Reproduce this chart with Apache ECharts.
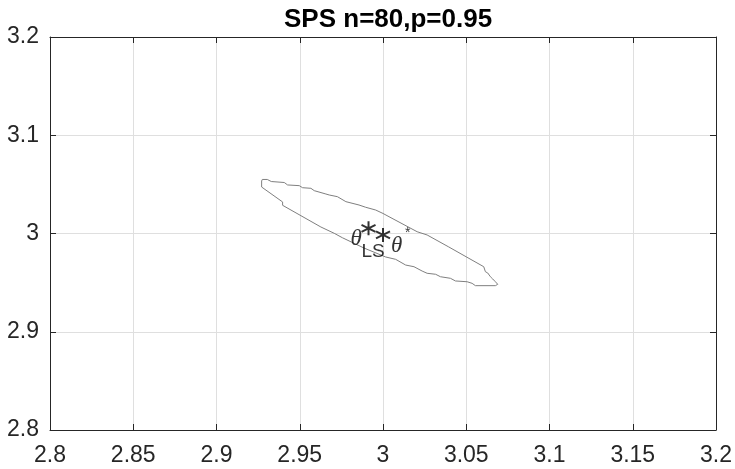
<!DOCTYPE html>
<html>
<head>
<meta charset="utf-8">
<script src="https://cdn.jsdelivr.net/npm/echarts@6/dist/echarts.min.js"></script>
<style>html,body{margin:0;padding:0;background:#fff;}#c{width:735px;height:469px;}</style>
</head>
<body>
<div id="c"></div>
<script>
var titleText = 'SPS n=80,p=0.95';
var xTicks = [2.8, 2.85, 2.9, 2.95, 3, 3.05, 3.1, 3.15, 3.2];
var yTicks = [2.8, 2.9, 3, 3.1, 3.2];
var contourX = [2.9275,2.9287,2.9305,2.9329,2.9341,2.9407,2.9427,2.9497,2.9517,2.9567,2.9587,2.9657,2.9677,2.9726,2.9777,2.9856,2.9896,2.9956,3.0000,3.0036,3.0205,3.0265,3.0395,3.0605,3.0615,3.0629,3.0645,3.0659,3.0675,3.0689,3.0675,3.0555,3.0535,3.0505,3.0435,3.0405,3.0345,3.0316,3.0265,3.0235,3.0186,3.0136,3.0076,3.0016,2.9886,2.9756,2.9707,2.9627,2.9397,2.9397,2.9271,2.9271,2.9275];
var contourY = [3.0550,3.0560,3.0550,3.0529,3.0519,3.0519,3.0494,3.0487,3.0466,3.0460,3.0436,3.0402,3.0392,3.0375,3.0324,3.0290,3.0267,3.0239,3.0204,3.0171,3.0018,2.9985,2.9863,2.9662,2.9611,2.9598,2.9560,2.9537,2.9509,2.9483,2.9469,2.9469,2.9493,2.9509,2.9517,2.9544,2.9560,2.9585,2.9595,2.9618,2.9662,2.9679,2.9737,2.9761,2.9852,2.9957,3.0002,3.0066,3.0287,3.0321,3.0473,3.0534,3.0550];
var thetaLS = [2.9913, 3.0053];
var thetaStar = [3.0000, 2.9985];

var contourData = contourX.map(function (x, i) { return [x, contourY[i]]; });
var axisColor = '#262626';
var sans = '"Liberation Sans", Arial, sans-serif';
var serif = '"Liberation Serif", "Times New Roman", serif';
var fmt = function (v) { return String(parseFloat(v.toFixed(4))); };
var star = 'path://M0,-1L0,1M-0.866,-0.5L0.866,0.5M-0.866,0.5L0.866,-0.5';

function xAxisCfg(pos, showLabel) {
  return {
    type: 'value', position: pos, min: xTicks[0], max: xTicks[xTicks.length - 1], interval: 0.05,
    axisLine: { show: true, onZero: false, lineStyle: { color: axisColor, width: 1 } },
    axisTick: { show: true, inside: true, length: 6, lineStyle: { color: axisColor } },
    axisLabel: { show: showLabel, formatter: fmt, color: axisColor, fontSize: 23, fontFamily: sans, margin: 14 },
    splitLine: { show: showLabel, lineStyle: { color: '#dfdfdf', width: 1 } }
  };
}
function yAxisCfg(pos, showLabel) {
  return {
    type: 'value', position: pos, min: yTicks[0], max: yTicks[yTicks.length - 1], interval: 0.1,
    axisLine: { show: true, onZero: false, lineStyle: { color: axisColor, width: 1 } },
    axisTick: { show: true, inside: true, length: 6, lineStyle: { color: axisColor } },
    axisLabel: { show: showLabel, formatter: fmt, color: axisColor, fontSize: 23, fontFamily: sans, margin: 11 },
    splitLine: { show: showLabel, lineStyle: { color: '#dfdfdf', width: 1 } }
  };
}

var chart = echarts.init(document.getElementById('c'), null, { renderer: 'canvas' });
chart.setOption({
  animation: false,
  backgroundColor: '#fff',
  title: {
    text: titleText, left: 279, top: 2,
    textStyle: { fontSize: 26, fontWeight: 'bold', color: '#000', fontFamily: sans }
  },
  grid: { left: 50, right: 17, top: 37, bottom: 39, containLabel: false },
  xAxis: [xAxisCfg('bottom', true), xAxisCfg('top', false)],
  yAxis: [yAxisCfg('left', true), yAxisCfg('right', false)],
  series: [
    {
      type: 'line', data: contourData, showSymbol: false, symbol: 'none',
      lineStyle: { color: '#7f7f7f', width: 1 }, z: 3
    },
    {
      type: 'scatter', data: [thetaLS, thetaStar], symbol: star, symbolSize: 14,
      itemStyle: { color: 'none', borderColor: '#000', borderWidth: 2 }, z: 5
    },
    {
      type: 'scatter', symbol: 'circle', symbolSize: 1, itemStyle: { color: 'rgba(0,0,0,0)' }, z: 6,
      label: { show: true, position: 'inside', align: 'left', verticalAlign: 'middle', color: '#000' },
      data: [
        { value: thetaLS, label: { formatter: 'θ', offset: [-18, 11], fontStyle: 'italic', fontSize: 23, fontFamily: serif } },
        { value: thetaLS, label: { formatter: 'LS', offset: [-7, 23], fontSize: 19, fontFamily: sans } },
        { value: thetaStar, label: { formatter: 'θ', offset: [8, 11], fontStyle: 'italic', fontSize: 23, fontFamily: serif } },
        { value: thetaStar, label: { formatter: '*', offset: [22, -2], fontSize: 14, fontFamily: sans } }
      ]
    }
  ]
});
</script>
</body>
</html>
